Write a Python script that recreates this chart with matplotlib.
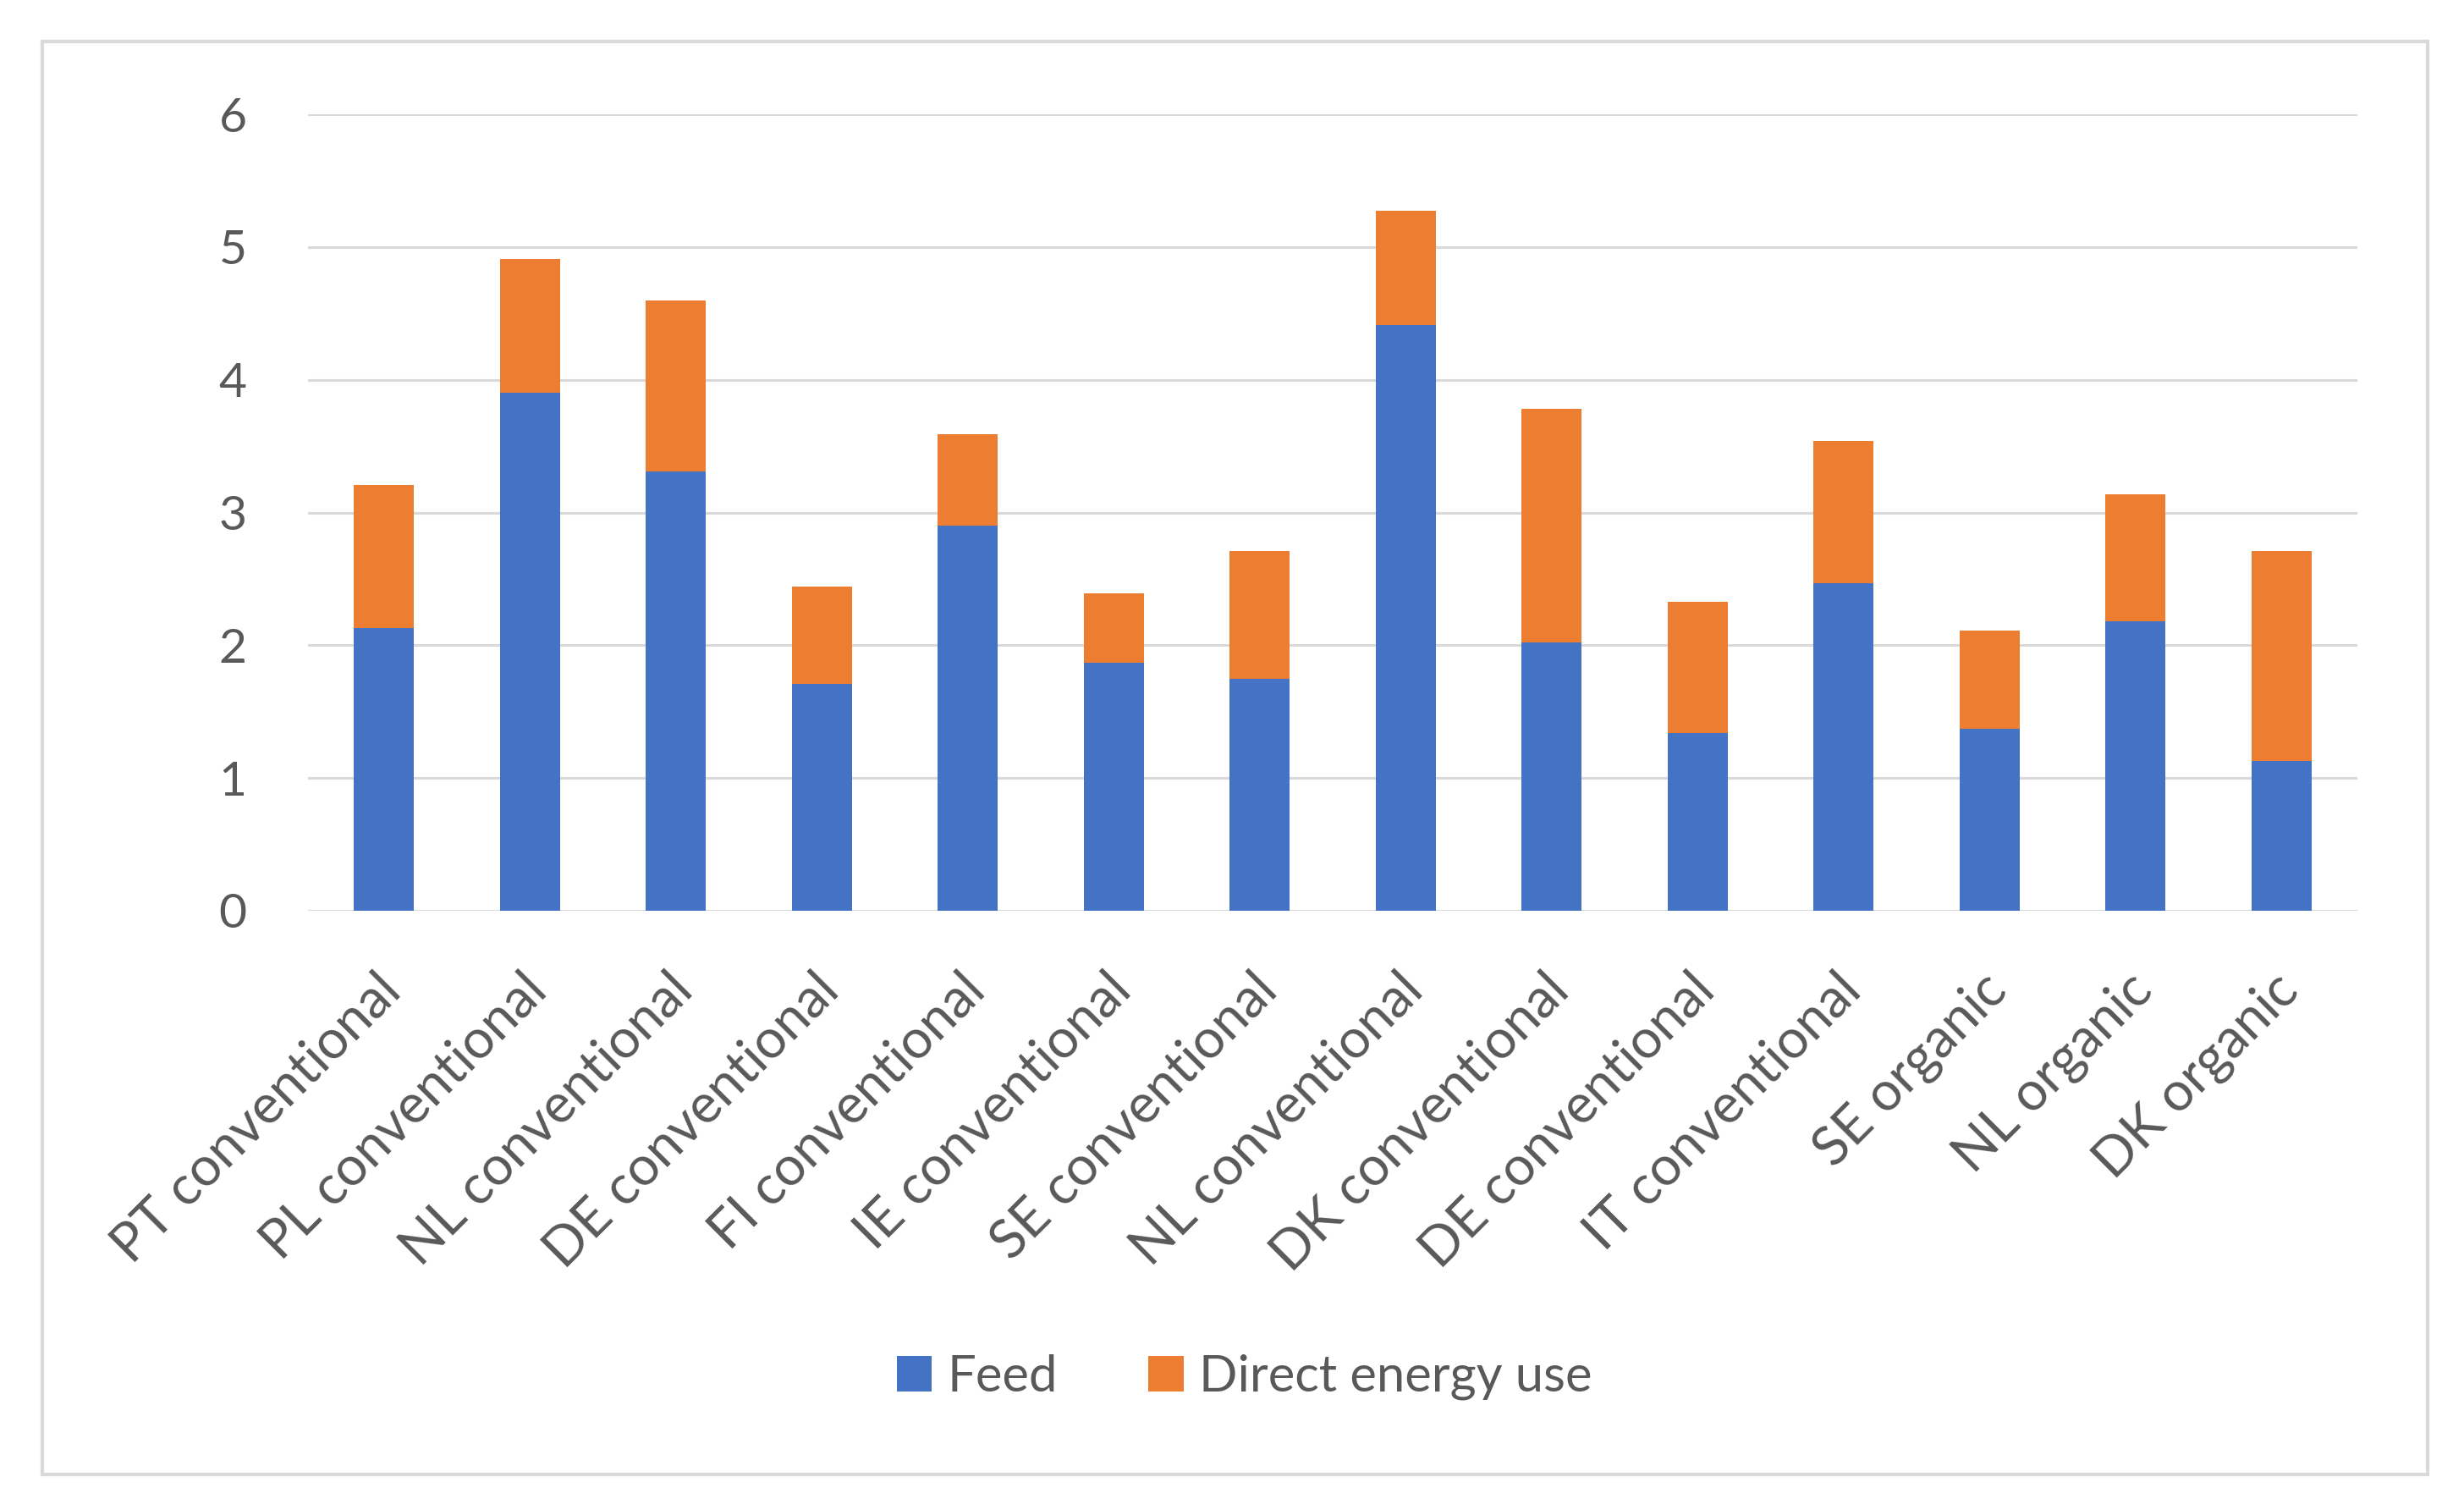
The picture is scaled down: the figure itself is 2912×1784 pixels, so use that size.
import matplotlib
matplotlib.use("Agg")
import matplotlib.pyplot as plt
from matplotlib.patches import Rectangle
from matplotlib.transforms import ScaledTranslation

categories = ["PT conventional", "PL conventional", "NL conventional", "DE conventional",
              "FI conventional", "IE conventional", "SE conventional", "NL conventional",
              "DK conventional", "DE conventional", "IT conventional", "SE organic",
              "NL organic", "DK organic"]
feed = [2.13, 3.90, 3.31, 1.71, 2.90, 1.87, 1.75, 4.41, 2.02, 1.34, 2.47, 1.37, 2.18, 1.13]
direct_energy = [1.08, 1.01, 1.29, 0.73, 0.69, 0.52, 0.96, 0.86, 1.76, 0.99, 1.07, 0.74, 0.96, 1.58]
yticks = [0, 1, 2, 3, 4, 5, 6]

plt.rcParams['font.family'] = ['Lato', 'DejaVu Sans']
TXT = '#595959'
GRID = '#D9D9D9'

fig = plt.figure(figsize=(29.12, 17.84), dpi=100)
fig.patch.set_facecolor('white')
fig.patches.append(Rectangle((50/2912, 1 - 1742/1784), (2869-50)/2912, (1742-49)/1784,
                             transform=fig.transFigure, fill=False, edgecolor=GRID,
                             linewidth=3, zorder=0))

ax = fig.add_axes([364/2912, 1 - 1076/1784, (2786-364)/2912, (1076-135)/1784])
x = list(range(len(categories)))
w = 0.41
ax.bar(x, feed, width=w, color='#4472C4', label='Feed', zorder=3)
ax.bar(x, direct_energy, width=w, bottom=feed, color='#ED7D31', label='Direct energy use', zorder=3)

ax.set_xlim(-0.52, len(categories) - 0.48)
ax.set_ylim(0, 6)
ax.set_yticks(yticks)
ax.set_yticklabels([str(v) for v in yticks])
ax.yaxis.grid(True, color=GRID, linewidth=2.2, zorder=0)
ax.set_axisbelow(True)
for s in ax.spines.values():
    s.set_visible(False)
ax.tick_params(axis='both', length=0, colors=TXT)
ax.tick_params(axis='y', pad=52, labelsize=41)
ax.tick_params(axis='x', pad=46, labelsize=46)
ax.set_xticks(x)
ax.set_xticklabels(categories, rotation=45, ha='right', rotation_mode='anchor')
offset = ScaledTranslation(-10/100, 0, fig.dpi_scale_trans)
for lab in ax.get_xticklabels():
    lab.set_transform(lab.get_transform() + offset)

handles, labels = ax.get_legend_handles_labels()
fig.legend(handles, labels, loc='center', bbox_to_anchor=(0.505, 0.088), ncol=2,
           frameon=False, fontsize=43, labelcolor=TXT, handlelength=0.7, handleheight=0.7,
           handletextpad=0.3, columnspacing=1.8)

fig.savefig('out.png', dpi=100, facecolor='white')
